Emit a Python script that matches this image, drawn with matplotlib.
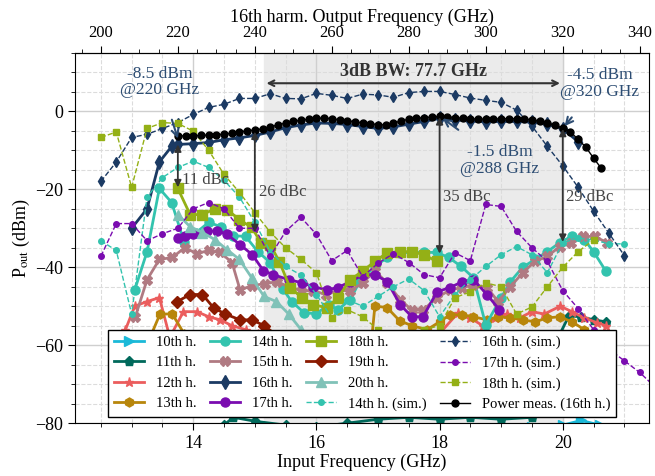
import numpy as np
import matplotlib
matplotlib.use("Agg")
import matplotlib.pyplot as plt
from matplotlib.ticker import MultipleLocator

plt.rcParams["font.family"] = ["Liberation Serif", "DejaVu Serif"]
plt.rcParams["mathtext.fontset"] = "stix"

# ---------------- data ----------------
x_sim = np.arange(12.5, 21.01, 0.25)

sim16 = [-18, -13, -6.7, -5.9, -4.4, -2.9, -0.8, 1.0, 1.8, 3.3, 3.3, 4.5, 3.3, 3.2, 4.6, 4.1, 3.3,
         4.4, 4.2, 3.6, 4.8, 5.1, 5.1, 4.3, 3.4, 2.8, 2.3, 0.3, -3.8, -9, -14, -19.5, -25.6, -31.3, -37]
sim18 = [-6.7, -5.3, -19.5, -4.4, -2.9, -3.1, -5.1, -10, -16.2, -20.8, -26, -31, -35, -38, -41.4,
         -53, -50.9, -52.7, -56, -58, -57, -56, -55, -47.8, -46.3, -44, -45, -52, -50.2, -45, -40, -36, -33]
sim14 = [-33.2, -35.7, -52, -22, -17, -14.4, -12.8, -14.4, -17.7, -22, -28.5, -36, -39.8, -42, -47,
         -53, -48.3, -50, -47.5, -45, -43, -46, -52.7, -47, -43.2, -39.8, -36.8, -34.7, -36.8, -41.4,
         -33.7, -32.5, -33, -34, -34]
sim17_x = list(x_sim) + [21.25, 21.45]
sim17 = [-37.2, -28.8, -28.8, -33.2, -31.4, -30, -25, -23.4, -25, -30, -30, -37.2, -30.8, -27.2, -31.6,
         -38.3, -35.7, -42.4, -39, -36.5, -38.8, -41.9, -42.7, -36.3, -38.3, -23.9, -24.4, -30.8, -35,
         -38.5, -46, -50.6, -56, -61, -64, -67, -70]

pow_x = np.arange(13.75, 20.7, 0.125)
pow_y = [-6.3, -6.3, -6.3, -6.2, -6.1, -6.0, -5.9, -5.6, -5.3, -5.0, -4.8, -4.5, -4.0, -3.5, -3.0,
         -2.6, -2.3, -2.0, -1.8, -1.7, -1.9, -2.2, -2.4, -2.7, -3.0, -3.2, -3.4, -3.5, -3.0, -2.5,
         -2.0, -1.8, -1.6, -1.5, -1.3, -1.4, -1.6, -1.8, -1.9, -2.0, -2.0, -2.0, -1.9, -1.9, -1.9,
         -2.0, -2.2, -2.5, -3.0, -3.6, -4.3, -5.3, -7.2, -9.2, -12.0, -14.6]

h16_x = [13.0, 13.25, 13.45, 13.65, 13.75, 14.0, 14.25, 14.5, 14.75, 15.0, 15.25, 15.5, 15.75, 16.0,
         16.25, 16.5, 16.75, 17.0, 17.25, 17.5, 17.75, 18.0, 18.25, 18.5, 18.75, 19.0, 19.25, 19.5,
         19.75, 20.0, 20.25]
h16_y = [-30, -25, -13, -9, -8.5, -8.3, -8.0, -7.3, -6.8, -6.2, -5.3, -4.2, -3.5, -3.0, -3.1, -3.4,
         -3.9, -4.4, -4.0, -3.3, -2.6, -1.8, -2.2, -2.5, -2.7, -2.6, -2.6, -2.8, -3.3, -4.5, -7.8]

h14_x = [13.05, 13.25, 13.45, 13.65, 13.85, 14.05, 14.25, 14.45, 14.65, 14.85, 15.05, 15.25, 15.45,
         15.6, 15.8, 16.0, 16.2, 16.35, 16.55, 16.7, 16.95, 17.15, 17.35, 17.55, 17.75, 17.95, 18.15,
         18.35, 18.55, 18.75, 19.0, 19.15, 19.35, 19.55, 19.75, 19.95, 20.15, 20.35, 20.5, 20.7]
h14_y = [-45.8, -36, -19.8, -23.4, -33.4, -31.1, -28.5, -29.6, -31.9, -32.1, -36, -38.8, -45.5, -48.8,
         -51.7, -51.9, -49.6, -50.9, -48.3, -43.7, -39.8, -37.5, -36.3, -36.2, -36.2, -36.2, -37.5,
         -39.8, -42.7, -54.8, -47.8, -43.7, -40, -38, -36, -33.7, -32, -32.9, -36, -41]

h15_x = [13.06, 13.25, 13.45, 13.66, 13.86, 14.06, 14.25, 14.44, 14.63, 14.76, 14.96, 15.17, 15.36,
         15.55, 15.75, 15.95, 16.15, 16.35, 16.55, 16.75, 16.95, 17.15, 17.36, 17.55, 17.73, 17.96,
         18.17, 18.37, 18.55, 18.77, 18.95, 19.15, 19.35, 19.55, 19.75, 19.95, 20.13, 20.33, 20.52, 20.72]
h15_y = [-52.7, -43.2, -38, -37.5, -35, -36.5, -35.7, -36.2, -38.8, -45.8, -44.7, -44.2, -43.7, -45,
         -46, -46, -47, -46, -46, -44, -41, -44, -48.3, -51, -51, -47.8, -45.8, -45.2, -44.5, -45.2,
         -48.8, -45, -41.4, -38.5, -37.2, -34.7, -33.7, -32.1, -32.1, -33.7]

h17_x = [13.75, 13.87, 14.0, 14.23, 14.39, 14.55, 14.76, 14.96, 15.14, 15.3, 15.55, 15.77, 15.95,
         16.17, 16.35, 16.55, 16.76, 16.95, 17.15, 17.36, 17.55, 17.73, 17.96, 18.17, 18.37, 18.55,
         18.77, 18.97]
h17_y = [-32.6, -32, -31.6, -30.8, -30.6, -31.6, -34.2, -36.8, -40.9, -41.9, -43.2, -44, -45, -45.8,
         -45.2, -43.7, -41.9, -41.9, -43.7, -49.6, -52.7, -52.7, -46.3, -45.2, -43.7, -43.2, -47, -50.9]

h18_x = [13.75, 13.95, 14.15, 14.35, 14.55, 14.75, 14.95, 15.1, 15.25, 15.4, 15.57, 15.77, 15.95,
         16.17, 16.35, 16.55, 16.75, 16.95, 17.15, 17.35, 17.55, 17.75, 17.95]
h18_y = [-19.8, -26.5, -26.5, -25, -25.2, -27.8, -29.8, -33.7, -34.2, -38.6, -45.2, -47.8, -49.6,
         -50.4, -47.8, -43.2, -41, -38.5, -36.3, -36, -36, -36.8, -38.5]

h20_x = [13.75, 13.95, 14.15, 14.35, 14.55, 14.75, 14.95, 15.15, 15.35, 15.55, 15.75, 15.95, 16.15, 16.35]
h20_y = [-26.5, -29.6, -31.1, -32.9, -35.5, -38, -42.7, -47.5, -48.8, -52, -56, -60, -64, -68]

h12_x = [12.9, 13.05, 13.25, 13.45, 13.62, 13.84, 14.06, 14.25, 14.44, 14.63, 14.85, 15.05, 15.3, 15.6,
         16.0, 16.5, 17.0, 17.5, 18.0, 18.3, 18.5, 18.7, 18.9, 19.1, 19.3, 19.5, 19.7, 19.96,
         20.15, 20.35, 20.55, 20.7]
h12_y = [-56, -50, -48.8, -47.8, -58, -51.4, -51.4, -52.7, -53.5, -55, -56, -57, -58, -60, -62, -63,
         -62, -60, -57, -51.7, -53, -55, -53, -52, -53, -51.4, -52, -50, -51.4, -53, -54.2, -55]

h13_x = [13.3, 13.46, 13.66, 13.85, 14.1, 14.5, 15.0, 15.5, 16.0, 16.5, 16.9, 16.95, 17.15, 17.35,
         17.55, 17.8, 18.0, 18.17, 18.37, 18.55, 18.77, 18.95, 19.15, 19.35, 19.55, 19.75, 19.95,
         20.15, 20.35]
h13_y = [-58, -52, -52, -57, -60, -62, -63, -64, -63, -60, -58, -49.9, -50.4, -53.7, -55, -56, -54,
         -52.2, -52.2, -52.7, -53.5, -52.7, -53, -53.5, -54, -53, -52.7, -54, -56]

h19_x = [13.74, 13.95, 14.15, 14.33, 14.52, 14.76, 14.96, 15.15, 15.4, 15.8, 16.2, 16.6, 17.0]
h19_y = [-48.8, -47, -47, -50.4, -52, -53.5, -53.5, -55, -58, -61, -64, -66, -68]

h11_x = [14.5, 14.65, 15.0, 15.5, 16.0, 16.5, 17.0, 17.5, 18.0, 18.5, 19.0, 19.5, 19.8, 20.1, 20.3,
         20.5, 20.7]
h11_y = [-80.5, -78.5, -79.5, -80.5, -81, -80, -79, -78.5, -79, -78.5, -79, -78.5, -62, -52.5, -52.7,
         -53.5, -54]

h10_x = [16.5, 17.0, 17.5, 18.0, 18.5, 19.0, 19.5, 20.0, 20.3, 20.6]
h10_y = [-82, -82, -81.5, -82, -81.5, -82, -81, -80.5, -79.3, -80.5]

# ---------------- figure ----------------
fig = plt.figure(figsize=(6.55, 4.76), dpi=100)
ax = fig.add_axes([0.1145, 0.111, 0.8763, 0.778])

ax.axvspan(242.3 / 16, 20.0, color="#ebebeb", zorder=0)

mk = dict(lw=2.0, ms=6.5)
ax.plot(h10_x, h10_y, "->", color="#1bb9d8", label="10th h.", **mk)
ax.plot(h11_x, h11_y, "-p", color="#00695b", label="11th h.", **mk)
ax.plot(h12_x, h12_y, "-*", color="#eb5d5d", label="12th h.", **mk)
ax.plot(h13_x, h13_y, "-h", color="#b8860b", label="13th h.", **mk)
ax.plot(h14_x, h14_y, "-o", color="#33c3ae", label="14th h.", **mk)
ax.plot(h15_x, h15_y, "-X", color="#b07a82", label="15th h.", **mk)
ax.plot(h16_x, h16_y, "-d", color="#1b3a63", label="16th h.", lw=2.0, ms=7.5)
ax.plot(h17_x, h17_y, "-o", color="#7a0cb0", label="17th h.", **mk)
ax.plot(h18_x, h18_y, "-s", color="#94b016", label="18th h.", **mk)
ax.plot(h19_x, h19_y, "-D", color="#8b1a00", label="19th h.", lw=2.0, ms=6)
ax.plot(h20_x, h20_y, "-^", color="#80c2b8", label="20th h.", **mk)

sk = dict(lw=1.0, ms=4)
ax.plot(x_sim[:len(sim14)], sim14, "--o", color="#33c3ae", label="14th h. (sim.)", **sk)
ax.plot(x_sim[:len(sim16)], sim16, "--d", color="#1b3a63", label="16th h. (sim.)", lw=1.0, ms=5)
ax.plot(sim17_x, sim17, "--o", color="#7a0cb0", label="17th h. (sim.)", **sk)
ax.plot(x_sim[:len(sim18)], sim18, "--s", color="#94b016", label="18th h. (sim.)", **sk)
ax.plot(pow_x, pow_y, "-o", color="black", lw=1.0, ms=5, label="Power meas. (16th h.)")

# bandwidth arrow
ax.annotate("", xy=(242.3 / 16, 7.2), xytext=(20.0, 7.2),
            arrowprops=dict(arrowstyle="<->", color="#333333", lw=1.5))
ax.text((242.3 / 16 + 20) / 2, 10.3, "3dB BW: 77.7 GHz", ha="center", va="center",
        fontsize=13, fontweight="bold", color="#333333")

# dBc arrows
for xa, ytop, ybot, lbl, yl in [(13.75, -8.5, -19.5, "11 dBc", -17.5),
                                (15.0, -5.2, -31.0, "26 dBc", -20.8),
                                (18.0, -1.5, -36.5, "35 dBc", -22.0),
                                (20.0, -4.5, -33.5, "29 dBc", -22.0)]:
    ax.annotate("", xy=(xa, ybot), xytext=(xa, ytop),
                arrowprops=dict(arrowstyle="<|-|>", color="#333333", lw=1.3,
                                mutation_scale=10, shrinkA=0, shrinkB=0))
    ax.text(xa + 0.06, yl, lbl, ha="left", va="center", fontsize=12, color="#444444")

navy = "#2d4d73"
for txt, xy, xyt in [("-8.5 dBm\n@220 GHz", (13.75, -7.0), (13.46, 7.5)),
                     ("-1.5 dBm\n@288 GHz", (18.05, -1.8), (18.98, -12.6)),
                     ("-4.5 dBm\n@320 GHz", (20.03, -3.8), (20.6, 7.2))]:
    ax.annotate(txt, xy=xy, xytext=xyt, ha="center", va="center", fontsize=12.5, color=navy,
                linespacing=1.05,
                arrowprops=dict(arrowstyle="->", color=navy, lw=1.5, shrinkA=14, shrinkB=0))

ax.set_xlim(12.08, 21.40)
ax.set_ylim(-80, 15)
ax.xaxis.set_major_locator(MultipleLocator(2))
ax.xaxis.set_minor_locator(MultipleLocator(0.5))
ax.yaxis.set_major_locator(MultipleLocator(20))
ax.yaxis.set_minor_locator(MultipleLocator(5))
ax.grid(which="major", color="#cfcfcf", lw=1.0, ls="-")
ax.grid(which="minor", color="#dcdcdc", lw=0.8, ls="--")
ax.set_axisbelow(True)
ax.tick_params(labelsize=13, direction="out", length=5)
ax.tick_params(which="minor", length=3)
ax.set_xlabel("Input Frequency (GHz)", fontsize=13, labelpad=1)
ax.set_ylabel(r"P$_{\rm out}$ (dBm)", fontsize=13, labelpad=2)

top = ax.secondary_xaxis("top", functions=(lambda f: f * 16, lambda f: f / 16))
top.xaxis.set_major_locator(MultipleLocator(20))
top.xaxis.set_minor_locator(MultipleLocator(5))
top.tick_params(labelsize=12, direction="out", length=5)
top.tick_params(which="minor", length=3)
top.set_xlabel("16th harm. Output Frequency (GHz)", fontsize=13, labelpad=2)

leg = ax.legend(ncol=4, loc="lower center", bbox_to_anchor=(0.5, 0.016), fontsize=10.5,
                frameon=True, fancybox=False, framealpha=1, edgecolor="black",
                handlelength=2.1, handletextpad=0.8, columnspacing=0.9,
                labelspacing=0.5, borderpad=0.4, borderaxespad=0)
leg.get_frame().set_linewidth(1.0)

fig.savefig("out.png", dpi=100)
